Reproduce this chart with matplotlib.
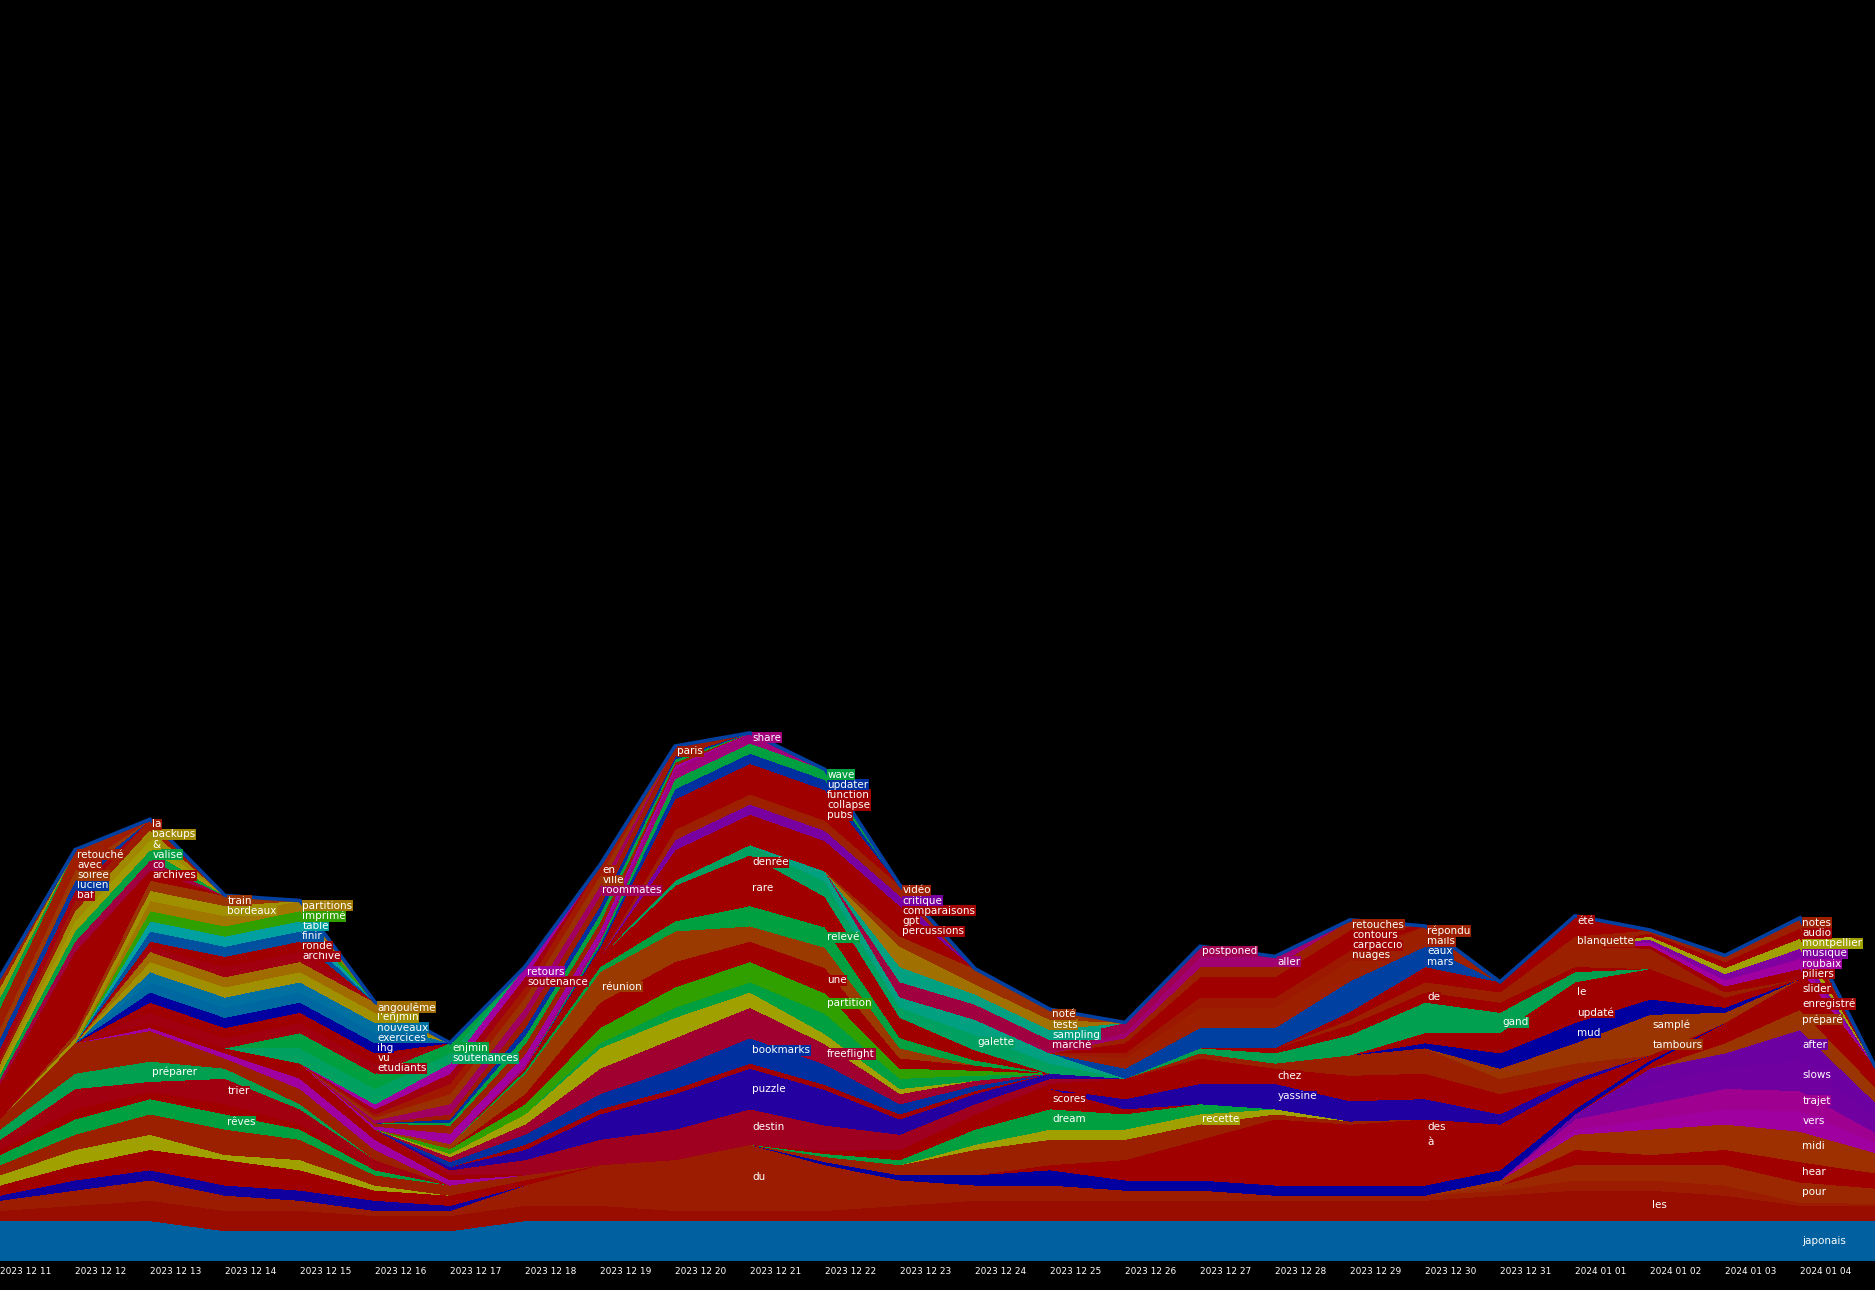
import matplotlib
matplotlib.use("Agg")
import matplotlib.pyplot as plt
import numpy as np

# one column per day, 2023-12-11 .. 2024-01-05 (last column is the right edge)
n_days = 26
dates = ["2023 12 11", "2023 12 12", "2023 12 13", "2023 12 14", "2023 12 15",
         "2023 12 16", "2023 12 17", "2023 12 18", "2023 12 19", "2023 12 20",
         "2023 12 21", "2023 12 22", "2023 12 23", "2023 12 24", "2023 12 25",
         "2023 12 26", "2023 12 27", "2023 12 28", "2023 12 29", "2023 12 30",
         "2023 12 31", "2024 01 01", "2024 01 02", "2024 01 03", "2024 01 04"]

# (word, colour, first day, counts from first day on, day of the label)
# bottom of the stack first
bottom_words = [
    ("japonais", "#0060a0", 0, [4, 4, 4, 3, 3, 3, 3, 4, 4, 4, 4, 4, 4, 4, 4, 4, 4, 4, 4, 4, 4, 4, 4, 4, 4, 4], 24),
    ("les", "#990c00", 0, [1, 1.5, 2, 2, 2, 1.5, 1.5, 1.5, 1.5, 1, 1, 1, 1.5, 2, 2, 2, 2, 2, 2, 2, 2.5, 3, 3, 2.5, 1.5, 1.5], 22),
    ("du", "#9b1c00", 0, [1, 1.5, 2, 1.5, 1, 0.5, 0.5, 2, 4, 5, 6.5, 4.5, 2.5, 1.5, 1.5, 1, 1, 0.5, 0.5, 0.5, 0.5, 1, 1, 1, 0.3, 0.2], 10),
]

right_bottom = [
    ("pour", "#9b2800", 20, [0.5, 1.5, 1.5, 2, 2, 1.5], 24),
    ("hear", "#a00000", 21, [1.5, 1, 1.5, 2, 1.5], 24),
    ("midi", "#9e3000", 20, [0.5, 1.5, 2.5, 2.5, 3, 2], 24),
    ("vers", "#a000a0", 21, [0.5, 1, 1.5, 2, 1], 24),
    ("trajet", "#a00090", 21, [1, 1.5, 2, 2, 1], 24),
    ("slows", "#7000a0", 21, [0.5, 2, 2, 3, 1.5], 24),
    ("after", "#6c00a0", 22, [1.5, 1.5, 3, 1.5], 24),
    ("préparé", "#9a3400", 23, [1, 2, 1.5], 24),
    ("enregistré", "#a00000", 23, [0.5, 1, 1], 24),
    ("slider", "#a00000", 22, [0.5, 1.5, 2, 1], 24),
]

left_lower = [
    ("", "#1000a0", 0, [0.5, 1, 1, 1, 1, 1, 0.5], None),
    ("", "#a00000", 0, [1, 1.5, 2, 2.5, 2, 1, 1, 0.5], None),
    ("", "#a0a000", 0, [1, 1.5, 1.5, 0.5, 1, 0.5], None),
    ("", "#9b2000", 0, [1, 1.5, 2, 2.5, 2, 1, 1, 0.5], None),
    ("rêves", "#00a040", 0, [1, 1.5, 1.5, 1.5, 1, 0.5], 3),
    ("", "#a00000", 0, [0.5, 1, 0.7, 1, 0.5], None),
    ("trier", "#a00010", 0, [1, 2, 1, 2.5, 1.5, 1], 3),
    ("préparer", "#00a050", 0, [1, 1.5, 2, 1, 0.5], 2),
    ("", "#9b2000", 0, [1, 3, 3, 1, 1.5, 1], None),
    ("", "#a000a0", 2, [0.3, 0.5, 1, 1, 0.5], None),
    ("", "#a00000", 2, [0.5, 0.5, 1.5, 1, 0.5], None),
]

right_mid_lower = [
    ("", "#0000a0", 11, [0.3, 0.5, 1, 1.5, 1, 1, 1, 1, 1, 1, 0.5, 0.3], None),
    ("", "#a00000", 14, [0.5, 1, 1, 1.5, 2, 3.5, 2.5, 1.5, 0.5], None),
    ("à", "#a00000", 15, [0.5, 1.5, 2.5, 2, 1.5, 1, 0.5], 19),
    ("des", "#a00000", 15, [0.5, 1.5, 2.5, 2, 1.5, 1, 0.5], 19),
    ("", "#9b2000", 11, [0.5, 1, 2.5, 2.5, 2, 1.5, 0.5, 0.3], None),
    ("recette", "#a0a000", 13, [0.5, 1, 1, 1, 0.5], 16),
    ("dream", "#00a040", 11, [0.3, 0.5, 1.5, 2, 1.5, 1], 14),
    ("scores", "#a00000", 11, [0.3, 1, 1.5, 2, 0.5], 14),
    ("yassine", "#2000a0", 15, [1, 2, 2.5, 2, 2, 1, 0.5], 17),
    ("chez", "#a00000", 14, [0.5, 2, 2.5, 1.5, 2.5, 2.5, 2], 17),
    ("", "#9b2000", 16, [0.5, 0.5, 2, 2.5, 1.5, 1.5], None),
    ("tambours", "#9a3400", 20, [0.5, 1, 2, 0.5], 22),
    ("samplé", "#9a3400", 20, [0.5, 1, 2, 0.5], 22),
    ("mud", "#0000a0", 19, [0.5, 1.5, 2, 1.5, 0.5], 21),
    ("updaté", "#a00000", 19, [0.5, 1, 2, 1.5, 0.5], 21),
    ("le", "#a00000", 19, [0.5, 1, 2, 1.5, 0.5], 21),
    ("gand", "#00a050", 16, [0.5, 1, 2, 3, 2, 1], 20),
    ("de", "#a00000", 17, [0.5, 1, 1, 1, 0.5], 19),
    ("", "#9b2000", 20, [0.5, 2, 2, 0.5], None),
]

mid_lower = [
    ("destin", "#a00020", 6, [0.5, 1.5, 2.5, 3, 3.5, 2.5, 1.5, 1, 0.5], 10),
    ("puzzle", "#2400a0", 6, [0.3, 1, 2.5, 3.5, 4, 3.5, 1.5, 1, 0.5], 10),
    ("", "#a00000", 7, [0.5, 0.5, 0.5, 0.5, 0.5, 0.5, 0.3], None),
    ("bookmarks", "#0030a0", 6, [0.5, 1, 1.5, 2, 2.5, 2, 1, 0.5], 10),
    ("freeflight", "#a00030", 6, [0.5, 1, 2.5, 3, 3, 2, 1, 0.5], 11),
    ("", "#a0a000", 6, [0.3, 1, 2, 2, 1.5, 1, 0.5], None),
    ("", "#00a040", 8, [0.5, 1, 1, 2, 1, 0.5], None),
    ("partition", "#30a000", 6, [0.5, 1, 1.5, 2, 2, 2, 1, 0.5], 11),
    ("une", "#a00000", 7, [1, 2.5, 2.5, 2, 2.5, 1, 0.5], 11),
    ("réunion", "#9a3a00", 6, [0.5, 2, 3, 3, 1.5, 2, 1], 8),
    ("relevé", "#00a040", 7, [0.3, 0.5, 1, 2, 2, 1, 0.5], 11),
    ("rare", "#a00000", 7, [0.3, 0.5, 2.5, 3.5, 2, 1.5, 1], 10),
    ("denrée", "#a00000", 8, [0.5, 1, 1.5, 1, 0.5], 10),
    ("galette", "#00a060", 9, [0.5, 1, 1.5, 1, 1.5, 1], 13),
    ("", "#00a080", 11, [1, 1, 1.5, 1], None),
]

# words on top of the stream, latest ending first
top_words = [
    ("piliers", "#a00000", 22, [0.3, 0.6, 1], 24),
    ("roubaix", "#a000a0", 22, [0.3, 0.6, 1], 24),
    ("musique", "#8000a0", 22, [0.3, 0.6, 1], 24),
    ("montpellier", "#a0a000", 22, [0.3, 0.6, 1], 24),
    ("audio", "#a00000", 22, [0.3, 0.6, 1], 24),
    ("notes", "#9c2000", 22, [0.3, 0.6, 1], 24),
    ("blanquette", "#9c2000", 18, [0.5, 1, 0.5, 1], 21),
    ("", "#a00000", 18, [0.5, 1, 0.5, 1], None),
    ("été", "#a00000", 18, [0.3, 0.5, 0.5, 1], 21),
    ("mars", "#0040a0", 15, [0.5, 1, 1, 1.5, 1], 19),
    ("eaux", "#0040a0", 15, [0.5, 1, 1, 1.5, 1], 19),
    ("mails", "#9c2000", 15, [0.5, 1, 1, 1, 1], 19),
    ("répondu", "#9c2000", 15, [0.5, 1, 1, 1, 1], 19),
    ("nuages", "#9c1800", 15, [0.5, 1, 1, 1], 18),
    ("carpaccio", "#a00000", 15, [0.5, 1, 1, 1], 18),
    ("contours", "#a00000", 15, [0.5, 1, 1, 1], 18),
    ("retouches", "#9c2000", 15, [0.5, 1, 1, 1], 18),
    ("aller", "#a00070", 15, [0.5, 1, 1], 17),
    ("postponed", "#a00050", 14, [0.3, 1, 1], 16),
    ("marché", "#a00040", 12, [1.5, 1.5, 1], 14),
    ("sampling", "#00a080", 12, [1.5, 1, 1], 14),
    ("tests", "#a07000", 12, [2, 1, 1], 14),
    ("noté", "#9a3000", 12, [1, 1.5, 1], 14),
    ("percussions", "#a00000", 9, [1, 1, 1, 1], 12),
    ("gpt", "#a00000", 9, [1, 1, 1, 1], 12),
    ("comparaisons", "#a00000", 9, [1, 1, 1, 1], 12),
    ("critique", "#7800a0", 9, [1, 1, 1, 1], 12),
    ("vidéo", "#9c2000", 9, [1, 1, 1, 1], 12),
    ("pubs", "#a00000", 8, [0.3, 1, 1, 1], 11),
    ("collapse", "#a00000", 8, [0.3, 1, 1, 1], 11),
    ("function", "#a00000", 8, [0.3, 1, 1, 1], 11),
    ("updater", "#0030a0", 8, [0.3, 1, 1, 1], 11),
    ("wave", "#00a040", 8, [0.3, 1, 1, 1], 11),
    ("share", "#a0007a", 7, [0.3, 0.3, 1, 1], 10),
    ("", "#a000a0", 5, [0.3, 1, 1, 0.8, 0.3], None),
    ("", "#9b2000", 5, [0.3, 0.8, 1, 0.8, 0.3], None),
    ("", "#00a040", 6, [0.3, 0.8, 0.8, 0.3], None),
    ("", "#0030a0", 6, [0.3, 0.8, 0.8, 0.3], None),
    ("paris", "#9c1a00", 6, [0.5, 1, 1, 1], 9),
    ("roommates", "#a00060", 5, [0.3, 1, 1, 1], 8),
    ("ville", "#9a3000", 5, [0.3, 1, 1, 1], 8),
    ("en", "#a01800", 5, [0.3, 1, 1, 1], 8),
    ("soutenance", "#a00010", 5, [0.5, 1, 1], 7),
    ("retours", "#a000a0", 5, [0.5, 1, 1], 7),
    ("soutenances", "#00a060", 3, [0, 1.5, 1.5, 1], 6),
    ("enjmin", "#00a040", 3, [0, 1.5, 1.5, 1], 6),
    ("étudiants", "#a00010", 1, [0, 1, 1, 1, 1], 5),
    ("vu", "#a00000", 1, [0, 1, 1, 1, 1], 5),
    ("ihg", "#0000a0", 1, [0, 1, 1, 1, 1], 5),
    ("exercices", "#0068a0", 1, [0, 1, 1, 1, 1], 5),
    ("nouveaux", "#0070a0", 1, [0, 1, 1, 1, 1], 5),
    ("l'enjmin", "#a09000", 1, [0, 1, 1, 1, 1], 5),
    ("angoulême", "#a06c00", 1, [0, 1, 1, 1, 1], 5),
    ("archive", "#a00010", 1, [0, 0.5, 1, 1], 4),
    ("ronde", "#a00000", 1, [0, 0.5, 1, 1], 4),
    ("finir", "#0050a0", 1, [0, 1, 1, 1], 4),
    ("table", "#00a0a0", 1, [0, 1, 1, 1], 4),
    ("imprimé", "#30a000", 1, [0, 1, 1, 1], 4),
    ("partitions", "#a07800", 1, [0, 1, 1, 1], 4),
    ("bordeaux", "#a09000", 1, [0.5, 1, 1], 3),
    ("train", "#9a3400", 1, [0.5, 1, 1], 3),
    ("", "#a00000", 0, [3, 7], None),
    ("archives", "#a00000", 0, [0.5, 1, 1], 2),
    ("co", "#a00040", 0, [0.5, 1, 1], 2),
    ("valise", "#00a040", 0, [0.5, 1, 1], 2),
    ("&", "#a09a00", 0, [0.5, 1, 1], 2),
    ("backups", "#a08800", 0, [0.5, 1, 1], 2),
    ("la", "#9c1a00", 0, [0.5, 1, 1], 2),
    ("baf", "#a00010", 0, [1, 1], 1),
    ("lucien", "#0038a0", 0, [1, 1], 1),
    ("soirée", "#9a3800", 0, [1, 1], 1),
    ("avec", "#a01c00", 0, [1, 1], 1),
    ("retouché", "#9c2000", 0, [1, 1], 1),
    ("", "#00a040", 0, [1], None),
    ("", "#a09000", 0, [1], None),
    ("", "#9c2000", 0, [1], None),
]

words = bottom_words + right_bottom + left_lower + right_mid_lower + mid_lower + top_words

days = np.arange(n_days)
rows = []
for name, col, start, vals, lab in words:
    r = np.zeros(n_days)
    r[start:start + len(vals)] = vals
    rows.append(r)
rows = np.array(rows)
colors = [w[1] for w in words]

fig = plt.figure(figsize=(18.75, 12.9), dpi=100, facecolor="black")
ax = fig.add_axes([0, 24 / 1079, 1, 1 - 24 / 1079])
ax.set_facecolor("black")
ax.stackplot(days, rows, colors=colors, linewidth=0, antialiased=False)

total = rows.sum(axis=0)
ax.plot(days, total, color="#0040a0", lw=2.6, solid_joinstyle="miter")

cum = np.cumsum(rows, axis=0) - rows
for i, (name, col, start, vals, lab) in enumerate(words):
    if not name or lab is None:
        continue
    yc = cum[i, lab] + rows[i, lab] / 2
    ax.text(lab + 0.03, yc, name, color="white", fontsize=7.5, ha="left", va="center",
            bbox=dict(facecolor=col, edgecolor="none", pad=0.4))

ax.set_xlim(0, 25)
ax.set_ylim(0, 1055 / 8.5)
ax.set_xticks(np.arange(len(dates)))
ax.set_xticklabels(dates, ha="left", color="white", fontsize=6.5)
ax.tick_params(axis="x", length=0, pad=4)
ax.set_yticks([])
for s in ax.spines.values():
    s.set_visible(False)

fig.savefig("out.png", dpi=100, facecolor="black")
